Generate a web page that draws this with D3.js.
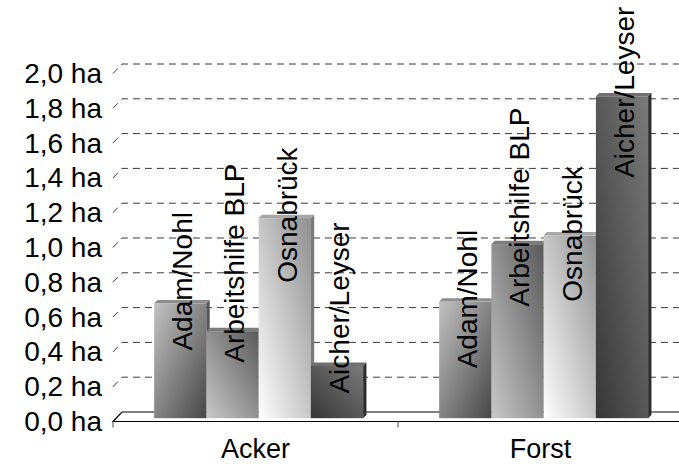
<!DOCTYPE html>
<html><head><meta charset="utf-8">
<script src="https://cdn.jsdelivr.net/npm/d3@7"></script>
<style>body{margin:0;background:#fff}svg{display:block}</style>
</head><body><svg id="c" width="679" height="464"></svg>
<script>
// ---- data ----
const categories = ["Acker", "Forst"];
const series = ["Adam/Nohl", "Arbeitshilfe BLP", "Osnabrück", "Aicher/Leyser"];
const ackerValues = [0.66, 0.50, 1.15, 0.30];
const forstValues = [0.67, 1.00, 1.05, 1.85];
const yTicks = [0, 0.2, 0.4, 0.6, 0.8, 1.0, 1.2, 1.4, 1.6, 1.8, 2.0];
const yTickLabels = ["0,0 ha", "0,2 ha", "0,4 ha", "0,6 ha", "0,8 ha", "1,0 ha", "1,2 ha", "1,4 ha", "1,6 ha", "1,8 ha", "2,0 ha"];

// ---- layout / style ----
const W = 679, H = 464;
const FONT = "'Liberation Sans', Arial, sans-serif";
const FS = 28;
const svg = d3.select("#c");
svg.append("rect").attr("width", W).attr("height", H).attr("fill", "#fff");

const valuesByCat = { "Acker": ackerValues, "Forst": forstValues };
const y = d3.scaleLinear().domain([0, 2]).range([421.5, 73.5]);
const x = d3.scaleBand().domain(categories).range([113, 683]);
const xs = d3.scaleBand().domain(series).range([-104.5, 104.5]);
const D = { x: 9, y: -9.5 };       // full floor depth vector
const fBar = 0.35;                  // depth of bar front face
const dd = { x: 3.3, y: -3.4 };    // bar depth

// label manual offsets (px, along bar) per category/series
const labelShift = { "Acker": [-22, -68, -3, -58], "Forst": [-2.5, -37, -1.5, -4] };

const defs = svg.append("defs");
const grads = [
  { id: "g0", x1: 0, y1: 0, x2: 1, y2: 1, stops: [["0%", "#c2c2c2"], ["100%", "#474747"]], top: "#8e8e8e", side: "#555" },
  { id: "g1", x1: 0, y1: 1, x2: 1, y2: 0, stops: [["0%", "#c8c8c8"], ["100%", "#5a5a5a"]], top: "#7c7c7c", side: "#4a4a4a" },
  { id: "g2", x1: 0, y1: 1, x2: 1, y2: 0, stops: [["0%", "#ffffff"], ["100%", "#8f8f8f"]], top: "#a8a8a8", side: "#7a7a7a" },
  { id: "g3", x1: 0, y1: 1, x2: 1, y2: 0, stops: [["0%", "#363636"], ["100%", "#7a7a7a"]], top: "#707070", side: "#2c2c2c" }
];
grads.forEach(g => {
  const lg = defs.append("linearGradient").attr("id", g.id)
    .attr("x1", g.x1).attr("y1", g.y1).attr("x2", g.x2).attr("y2", g.y2);
  g.stops.forEach(s => lg.append("stop").attr("offset", s[0]).attr("stop-color", s[1]));
});

// gridlines (back wall + side wall)
const gridG = svg.append("g");
yTicks.filter(v => v > 0).forEach(v => {
  const yy = y(v);
  gridG.append("path")
    .attr("d", `M${x.range()[0]},${yy} L${x.range()[0] + D.x},${yy + D.y} L${x.range()[1] + D.x + 5},${yy + D.y}`)
    .attr("fill", "none").attr("stroke", "#3a3a3a").attr("stroke-width", 1)
    .attr("stroke-dasharray", "7,5");
});

// floor
svg.append("path")
  .attr("d", `M${x.range()[1] + 5},${y(0)} L${x.range()[0]},${y(0)} L${x.range()[0] + D.x},${y(0) + D.y} L${x.range()[1] + D.x + 5},${y(0) + D.y}`)
  .attr("fill", "#fff").attr("stroke", "#000").attr("stroke-width", 1.2);

// category ticks
[x.range()[0], x.range()[0] + x.bandwidth(), x.range()[1]].forEach(tx => {
  svg.append("line").attr("x1", tx).attr("x2", tx).attr("y1", y(0)).attr("y2", y(0) + 6)
    .attr("stroke", "#666").attr("stroke-width", 1.2);
});

// bars
const barG = svg.append("g");
const labels = [];
categories.forEach(cat => {
  const vals = valuesByCat[cat];
  series.forEach((s, i) => {
    const v = vals[i];
    const x0 = x(cat) + x.bandwidth() / 2 + xs(s) + fBar * D.x;
    const w = xs.bandwidth();
    const top = y(v) + fBar * D.y;
    const bot = y(0) + fBar * D.y;
    const g = grads[i];
    barG.append("rect").attr("x", x0).attr("y", top).attr("width", w).attr("height", bot - top)
      .attr("fill", `url(#${g.id})`);
    barG.append("path")
      .attr("d", `M${x0},${top} L${x0 + dd.x},${top + dd.y} L${x0 + w + dd.x},${top + dd.y} L${x0 + w},${top} Z`)
      .attr("fill", g.top);
    barG.append("path")
      .attr("d", `M${x0 + w},${top} L${x0 + w + dd.x},${top + dd.y} L${x0 + w + dd.x},${bot + dd.y} L${x0 + w},${bot} Z`)
      .attr("fill", g.side);
    labels.push({ text: s, cx: x0 + w / 2, cy: top + labelShift[cat][i] });
  });
});

// bar labels
svg.append("g").selectAll("text").data(labels).join("text")
  .attr("transform", d => `translate(${d.cx},${d.cy}) rotate(-90)`)
  .attr("text-anchor", "middle").attr("dy", "0.42em")
  .attr("font-family", FONT).attr("font-size", FS).attr("fill", "#000")
  .text(d => d.text);

// y tick labels
svg.append("g").selectAll("text").data(yTicks).join("text")
  .attr("x", 102).attr("y", d => y(d))
  .attr("text-anchor", "end").attr("dominant-baseline", "central")
  .attr("font-family", FONT).attr("font-size", FS).attr("fill", "#000")
  .text((d, i) => yTickLabels[i]);

// category labels
svg.append("g").selectAll("text").data(categories).join("text")
  .attr("x", d => x(d) + x.bandwidth() / 2).attr("y", 458)
  .attr("text-anchor", "middle")
  .attr("font-family", FONT).attr("font-size", 27).attr("fill", "#000")
  .text(d => d);
</script>
</body></html>
